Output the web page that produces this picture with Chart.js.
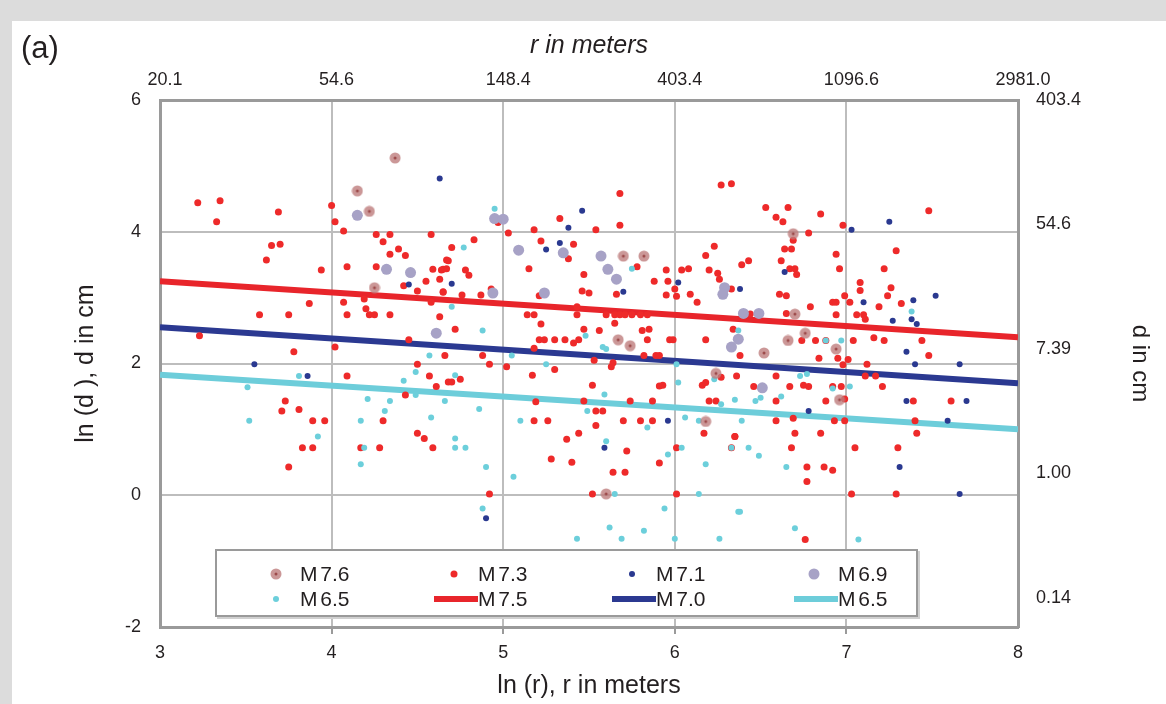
<!DOCTYPE html>
<html>
<head>
<meta charset="utf-8">
<script src="https://cdn.jsdelivr.net/npm/chart.js@4/dist/chart.umd.min.js"></script>
<style>
  body { margin: 0; width: 1166px; height: 704px; background: #dcdcdc; overflow: hidden;
         font-family: 'Liberation Sans', Arial, sans-serif; }
  #sheet { position: absolute; left: 12px; top: 21px; width: 1154px; height: 683px; background: #fff; }
  #panel { position: absolute; left: 9px; top: 9px; font-size: 31px; color: #231f20; }
  #legend { position: absolute; left: 203px; top: 528px; width: 703px; height: 68px; box-sizing: border-box;
            border: 2px solid #9a9a9a; background: #fff; box-shadow: 2px 2px 0 #d0d0d0; }
  .item { position: absolute; height: 24px; line-height: 24px; font-size: 21px; color: #231f20; word-spacing: -3px; }
  .item canvas { position: absolute; top: 0; }
</style>
</head>
<body>
<div id="sheet">
  <canvas id="chart" width="1154" height="683"></canvas>
  <div id="panel">(a)</div>
  <div id="legend"></div>
</div>
<script>
// axis ticks
const bottomTicks = [3, 4, 5, 6, 7, 8];
const topTickLabels = ['20.1', '54.6', '148.4', '403.4', '1096.6', '2981.0'];
const leftTicks = [-2, 0, 2, 4, 6];
const rightTickLabels = ['0.14', '1.00', '7.39', '54.6', '403.4'];

// regression lines, ln(d) at x = 3 and x = 8
const lineX = [3, 8];
const fitM75 = [3.25, 2.40];
const fitM70 = [2.55, 1.70];
const fitM65 = [1.83, 1.00];

// observations as [ln r, ln d]
const m76 = [[4.37,5.12],[4.15,4.62],[4.22,4.31],[4.25,3.15],[5.70,3.63],[5.82,3.63],[5.67,2.36],[5.74,2.27],
  [5.60,0.02],[6.18,1.12],[6.24,1.85],[6.69,3.97],[6.70,2.75],[6.76,2.46],[6.66,2.35],[6.94,2.22],[6.52,2.16],[6.96,1.45]];

const m69 = [[4.15,4.25],[4.32,3.43],[4.46,3.38],[4.61,2.46],[4.95,4.20],[5.00,4.19],[5.09,3.72],[5.35,3.68],
  [5.57,3.63],[5.61,3.43],[5.66,3.28],[6.29,3.15],[6.28,3.05],[4.94,3.07],[5.24,3.07],[6.37,2.37],[6.33,2.25],
  [6.40,2.76],[6.49,2.76],[6.51,1.63]];

const m71 = [[4.63,4.81],[4.45,3.20],[3.55,1.99],[3.86,1.81],[5.46,4.32],[5.38,4.06],[5.25,3.73],[5.33,3.83],
  [6.02,3.23],[6.38,3.13],[5.70,3.09],[4.70,3.21],[5.96,1.13],[5.59,0.72],[4.90,-0.35],[7.25,4.15],[7.03,4.03],
  [6.64,3.39],[7.39,2.96],[7.52,3.03],[7.10,2.93],[7.27,2.65],[7.38,2.67],[7.41,2.60],[7.35,2.18],[7.40,1.99],
  [7.66,1.99],[7.35,1.43],[7.70,1.43],[6.78,1.28],[7.59,1.13],[7.31,0.43],[7.66,0.02]];

const m65 = [[4.57,2.12],[3.81,1.81],[3.51,1.64],[3.52,1.13],[3.92,0.89],[4.17,1.13],[4.21,1.46],[4.34,1.43],
  [4.31,1.28],[4.42,1.74],[4.49,1.87],[4.49,1.52],[4.66,1.43],[4.58,1.18],[4.19,0.72],[4.17,0.47],[4.95,4.35],
  [4.77,3.76],[5.75,3.44],[4.70,2.86],[4.88,2.50],[5.48,2.42],[6.37,2.50],[5.58,2.25],[5.60,2.22],[5.05,2.12],
  [5.25,1.99],[4.72,1.82],[4.86,1.31],[5.10,1.13],[4.72,0.86],[4.72,0.72],[4.78,0.72],[4.90,0.43],[5.06,0.28],
  [4.88,-0.20],[5.49,1.28],[5.59,1.53],[5.84,1.03],[5.60,0.82],[5.96,0.62],[6.04,0.72],[5.65,0.02],[6.14,0.02],
  [5.94,-0.20],[5.62,-0.49],[5.82,-0.54],[5.43,-0.66],[5.69,-0.66],[6.00,-0.66],[6.26,-0.66],[6.18,0.47],
  [6.06,1.18],[6.14,1.13],[6.27,1.38],[6.37,-0.25],[6.02,1.71],[6.23,1.76],[6.01,1.99],[7.38,2.79],[6.88,2.35],
  [6.97,2.35],[6.73,1.81],[6.77,1.84],[6.92,1.62],[7.02,1.65],[6.35,1.45],[6.47,1.43],[6.50,1.48],[6.62,1.50],
  [6.39,1.13],[6.33,0.72],[6.43,0.72],[6.49,0.60],[6.65,0.43],[6.38,-0.25],[6.70,-0.50],[7.07,-0.67]];

const m73 = [[3.22,4.44],[3.35,4.47],[3.33,4.15],[3.69,4.30],[4.00,4.40],[4.02,4.15],[4.07,4.01],[4.26,3.96],
  [4.34,3.96],[4.58,3.96],[4.30,3.85],[4.39,3.74],[4.34,3.66],[4.43,3.64],[3.65,3.79],[3.70,3.81],[3.62,3.57],
  [3.94,3.42],[4.09,3.47],[4.26,3.47],[4.59,3.43],[4.64,3.42],[4.67,3.57],[4.55,3.25],[4.63,3.28],[4.42,3.18],
  [4.50,3.10],[4.65,3.09],[4.19,2.98],[4.07,2.93],[4.20,2.83],[4.22,2.74],[4.25,2.74],[4.34,2.74],[4.09,2.74],
  [3.87,2.91],[3.58,2.74],[3.75,2.74],[4.58,2.93],[4.63,2.71],[3.23,2.42],[4.45,2.36],[4.02,2.25],[3.78,2.18],
  [4.66,2.12],[3.73,1.43],[3.71,1.28],[3.81,1.30],[3.89,1.13],[3.96,1.13],[3.83,0.72],[3.89,0.72],[3.75,0.43],
  [4.09,1.81],[4.30,1.13],[4.50,1.99],[4.57,1.81],[4.61,1.65],[4.43,1.52],[4.50,0.94],[4.54,0.86],[4.59,0.72],
  [4.17,0.72],[4.28,0.72],[4.68,1.72],[4.97,4.14],[5.68,4.58],[5.68,4.10],[6.27,4.71],[6.33,4.73],[5.33,4.20],
  [5.54,4.03],[5.18,4.03],[5.03,3.98],[4.83,3.88],[4.70,3.76],[5.22,3.86],[5.41,3.81],[5.38,3.59],[5.78,3.47],
  [6.18,3.64],[6.23,3.78],[6.20,3.42],[6.25,3.37],[6.26,3.28],[5.95,3.42],[6.04,3.42],[6.08,3.44],[5.88,3.25],
  [5.96,3.25],[6.33,3.13],[5.47,3.35],[5.46,3.10],[5.50,3.07],[5.66,3.05],[5.15,3.44],[4.68,3.56],[4.65,3.43],
  [4.67,3.44],[4.78,3.42],[4.80,3.34],[4.65,3.08],[4.76,3.04],[4.87,3.04],[4.93,3.13],[5.21,3.03],[5.95,3.04],
  [6.00,3.13],[6.01,3.02],[6.09,3.05],[6.13,2.93],[5.14,2.74],[5.18,2.74],[5.22,2.60],[5.43,2.86],[5.43,2.74],
  [5.60,2.74],[5.65,2.74],[5.68,2.74],[5.71,2.74],[5.75,2.74],[5.80,2.74],[5.84,2.74],[5.65,2.61],[5.47,2.52],
  [5.56,2.50],[4.72,2.52],[5.81,2.50],[5.85,2.52],[5.21,2.36],[5.24,2.36],[5.30,2.36],[5.36,2.36],[5.41,2.31],
  [5.44,2.36],[5.84,2.36],[5.97,2.36],[5.99,2.36],[6.18,2.36],[6.34,2.52],[5.18,2.23],[4.88,2.12],[4.92,1.99],
  [5.02,1.95],[5.30,1.91],[5.17,1.82],[4.70,1.72],[4.75,1.76],[5.18,1.13],[5.26,1.13],[5.19,1.42],[5.28,0.55],
  [4.92,0.02],[5.37,0.85],[5.44,0.94],[5.40,0.50],[5.54,1.28],[5.58,1.28],[5.54,1.06],[5.47,1.43],[5.52,1.67],
  [5.74,1.43],[5.87,1.43],[5.70,1.13],[5.80,1.13],[5.87,1.13],[5.72,0.67],[5.64,0.35],[5.71,0.35],[5.91,0.49],
  [6.01,0.72],[5.52,0.02],[6.01,0.02],[6.17,0.94],[6.20,1.43],[6.24,1.43],[6.35,0.89],[6.33,0.72],[6.16,1.67],
  [6.18,1.71],[6.27,1.79],[5.91,1.66],[5.93,1.67],[5.82,2.12],[5.89,2.12],[5.91,2.12],[5.53,2.05],[5.63,1.95],
  [5.64,2.01],[6.53,4.37],[6.66,4.37],[6.59,4.22],[6.63,4.15],[6.85,4.27],[7.48,4.32],[6.98,4.10],[6.69,3.87],
  [6.78,3.98],[6.64,3.74],[6.68,3.74],[6.94,3.66],[7.29,3.71],[6.39,3.50],[6.43,3.56],[6.62,3.56],[6.67,3.44],
  [6.70,3.44],[6.71,3.35],[6.96,3.44],[7.22,3.44],[7.08,3.23],[7.08,3.11],[7.26,3.15],[7.24,3.03],[7.32,2.91],
  [6.92,2.93],[6.94,2.93],[6.99,3.03],[7.02,2.93],[7.19,2.86],[6.79,2.86],[6.61,3.05],[6.65,3.03],[6.94,2.74],
  [7.06,2.74],[7.10,2.74],[7.11,2.67],[6.65,2.76],[6.44,2.75],[6.74,2.35],[6.82,2.35],[6.88,2.35],[7.04,2.35],
  [7.16,2.39],[7.22,2.35],[7.44,2.35],[7.48,2.12],[6.38,2.12],[6.84,2.08],[6.95,2.08],[6.98,1.98],[7.01,2.06],
  [7.12,1.99],[6.36,1.81],[6.59,1.81],[7.11,1.81],[7.17,1.81],[6.46,1.65],[6.67,1.65],[6.75,1.67],[6.78,1.65],
  [6.92,1.65],[6.97,1.65],[7.21,1.65],[6.59,1.43],[6.88,1.43],[6.99,1.46],[7.39,1.43],[7.61,1.43],[6.59,1.13],
  [6.69,1.17],[6.93,1.13],[6.99,1.13],[7.40,1.13],[6.35,0.89],[6.70,0.94],[6.85,0.94],[7.41,0.94],[6.68,0.72],
  [7.05,0.72],[7.30,0.72],[6.77,0.43],[6.87,0.43],[6.92,0.38],[6.77,0.21],[7.03,0.02],[7.29,0.02],[6.76,-0.67]];

const textColor = '#231f20';
const gridColor = '#bdbdbd';
const frameColor = '#9a9a9a';
Chart.defaults.font.family = "'Liberation Sans', Arial, sans-serif";
Chart.defaults.color = textColor;

const toPoints = arr => arr.map(p => ({ x: p[0], y: p[1] }));
const toLine = ys => lineX.map((x, i) => ({ x: x, y: ys[i] }));

// M7.6 marker: pale halo with a darker centre
function haloMarker() {
    const c = document.createElement('canvas');
    c.width = 12; c.height = 12;
    const g = c.getContext('2d');
    g.fillStyle = 'rgba(190,125,125,0.8)';
    g.beginPath(); g.arc(6, 6, 5.5, 0, Math.PI * 2); g.fill();
    g.fillStyle = '#9c4a4a';
    g.beginPath(); g.arc(6, 6, 1.5, 0, Math.PI * 2); g.fill();
    return c;
}
const m76Marker = haloMarker();

function pointSet(label, data, color, radius, style) {
    return {
        label: label, data: toPoints(data), backgroundColor: color, borderWidth: 0,
        pointRadius: radius, pointStyle: style || 'circle', pointHoverRadius: radius,
    };
}
function lineSet(label, ys, color) {
    return {
        label: label, data: toLine(ys), showLine: true, borderColor: color, backgroundColor: color,
        borderWidth: 6, pointRadius: 0, isLine: true,
    };
}

const datasets = [
    pointSet('M 7.6', m76, 'rgba(190,125,125,0.8)', 6, m76Marker),
    pointSet('M 6.9', m69, '#a7a2c6', 5.5),
    pointSet('M 7.1', m71, '#2a3990', 3),
    pointSet('M 6.5', m65, '#6ccfdb', 3),
    pointSet('M 7.3', m73, '#ee2a2a', 3.5),
    lineSet('M 7.5', fitM75, '#e8252b'),
    lineSet('M 7.0', fitM70, '#2b3991'),
    lineSet('M 6.5', fitM65, '#6dcdda'),
];

const ctx = document.getElementById('chart').getContext('2d');
const chart = new Chart(ctx, {
    type: 'scatter',
    data: { datasets: datasets },
    options: {
        responsive: false,
        animation: false,
        layout: { padding: 0 },
        plugins: { legend: { display: false }, tooltip: { enabled: false } },
        scales: {
            x: {
                type: 'linear', position: 'bottom', min: 3, max: 8,
                afterBuildTicks: s => { s.ticks = bottomTicks.map(v => ({ value: v })); },
                afterFit: s => { s.height = 77; },
                grid: {
                    color: gridColor, lineWidth: 2, drawTicks: true, tickLength: 7, tickWidth: 2,
                    tickColor: c => (c.index === 0 || c.index === bottomTicks.length - 1) ? 'rgba(0,0,0,0)' : frameColor,
                },
                border: { color: frameColor, width: 3 },
                ticks: { padding: 8, font: { size: 18 } },
                title: { display: true, text: 'ln (r), r in meters', font: { size: 25 }, padding: { top: 0, bottom: 3 } },
            },
            x2: {
                type: 'linear', position: 'top', min: 3, max: 8,
                afterBuildTicks: s => { s.ticks = bottomTicks.map(v => ({ value: v })); },
                afterFit: s => { s.height = 79; },
                grid: { display: false },
                border: { color: frameColor, width: 3 },
                ticks: { padding: 1, labelOffset: 5, font: { size: 18 }, callback: (v, i) => topTickLabels[i] },
                title: { display: true, text: 'r in meters', font: { size: 25, style: 'italic' }, padding: { top: 10, bottom: 0 } },
            },
            y: {
                type: 'linear', position: 'left', min: -2, max: 6,
                afterBuildTicks: s => { s.ticks = leftTicks.map(v => ({ value: v })); },
                afterFit: s => { s.width = 148; },
                grid: { color: gridColor, lineWidth: 2, drawTicks: false },
                border: { color: frameColor, width: 3 },
                ticks: { padding: 19, font: { size: 18 } },
                title: { display: true, text: 'ln (d ), d in cm', font: { size: 25 }, padding: { top: 59, bottom: 0 } },
            },
            y2: {
                type: 'linear', position: 'right', min: -2.466, max: 6,
                afterBuildTicks: s => { s.ticks = leftTicks.map(v => ({ value: v })); },
                afterFit: s => { s.width = 148; },
                grid: { display: false },
                border: { color: frameColor, width: 3 },
                ticks: { padding: 10, font: { size: 18 }, callback: (v, i) => rightTickLabels[i] },
                title: { display: true, text: 'd in cm', font: { size: 24 }, padding: { top: 12, bottom: 0 } },
            },
        },
    },
});

// legend drawn over the plot, built from the datasets
const legendEl = document.getElementById('legend');
const colLeft = [83, 261, 439, 621];
const rowTop = [11, 36];
const legendSets = [datasets[0], datasets[4], datasets[2], datasets[1], datasets[3], datasets[5], datasets[6], datasets[7]];
legendSets.forEach((ds, i) => {
    const item = document.createElement('div');
    item.className = 'item';
    item.style.left = colLeft[i % 4] + 'px';
    item.style.top = rowTop[Math.floor(i / 4)] + 'px';
    item.textContent = ds.label;
    const c = document.createElement('canvas');
    c.width = 48; c.height = 24;
    c.style.left = '-48px';
    const g = c.getContext('2d');
    if (ds.isLine) {
        g.fillStyle = ds.borderColor;
        g.fillRect(4, 9, 44, 6);
    } else if (ds.pointStyle instanceof HTMLCanvasElement) {
        g.drawImage(ds.pointStyle, 18, 6);
    } else {
        g.fillStyle = ds.backgroundColor;
        g.beginPath(); g.arc(24, 12, ds.pointRadius, 0, Math.PI * 2); g.fill();
    }
    item.appendChild(c);
    legendEl.appendChild(item);
});
</script>
</body>
</html>
